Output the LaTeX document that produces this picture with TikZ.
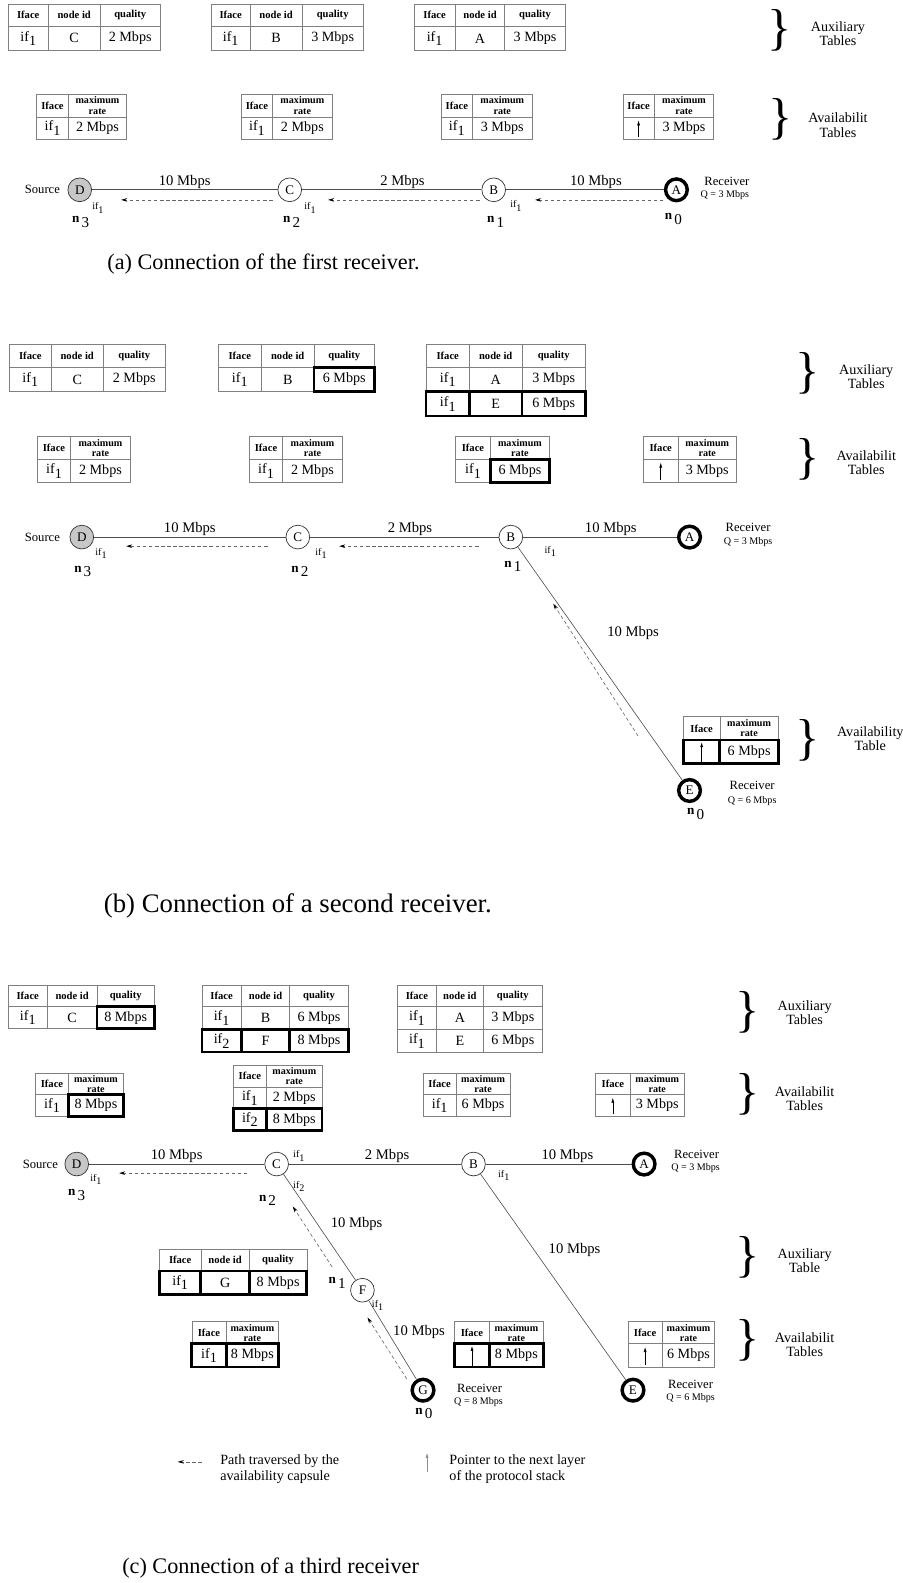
\documentclass[tikz,border=0pt]{standalone}
\usepackage{fontspec}
\setmainfont{Liberation Serif}
\usetikzlibrary{arrows.meta}
\newcommand\fs[1]{\fontsize{#1}{#1}\selectfont}
\newcommand\IFs[1]{if\raisebox{-0.7ex}{#1}}
\newcommand\nlab[1]{\textbf{n}\,\raisebox{-0.8ex}{\fs{15}#1}}
\newcommand\tcell[7]{%
  \pgfmathsetmacro\tcw{#4-#2}\pgfmathsetmacro\tch{#5-#3}%
  \pgfmathsetmacro\tcx{(#2+#4)/2}\pgfmathsetmacro\tcy{(#3+#5)/2}%
  \node[#6, minimum width=\tcw pt, minimum height=\tch pt] (#1) at (\tcx,\tcy) {#7};}
\newcommand\setcols[4]{\def\colA{#1}\def\colB{#2}\def\colC{#3}\def\colD{#4}}
\newcommand\auxhead[3]{%
  \tcell{#1-ha}{\colA}{#2}{\colB}{#3}{hdr}{Iface}%
  \tcell{#1-hb}{\colB}{#2}{\colC}{#3}{hdr}{node id}%
  \tcell{#1-hc}{\colC}{#2}{\colD}{#3}{hdr}{quality}}
\newcommand\auxrow[9]{%
  \tcell{#1-a}{\colA}{#2}{\colB}{#3}{#4}{#7}%
  \tcell{#1-b}{\colB}{#2}{\colC}{#3}{#5}{#8}%
  \tcell{#1-c}{\colC}{#2}{\colD}{#3}{#6}{#9}}
\newcommand\avhead[3]{%
  \tcell{#1-ha}{\colA}{#2}{\colB}{#3}{hdr}{Iface}%
  \tcell{#1-hb}{\colB}{#2}{\colC}{#3}{hdrs}{maximum\\rate}}
\newcommand\avrow[7]{%
  \tcell{#1-a}{\colA}{#2}{\colB}{#3}{#4}{#6}%
  \tcell{#1-b}{\colB}{#2}{\colC}{#3}{#5}{#7}}
\newcommand\ptrin[1]{\draw[ptrarrow] ([yshift=2.5pt]#1.south) -- ([yshift=-3.5pt]#1.north);}
\tikzset{
  tc/.style={draw=black!50, line width=0.6pt, inner sep=0pt, font=\fs{14}},
  bc/.style={draw=black, line width=2.8pt, inner sep=0pt, font=\fs{14}},
  hdr/.style={tc, font=\fs{10.5}\bfseries},
  hdrs/.style={tc, font=\fs{10}\bfseries, align=center},
  rn/.style={circle, draw=black!80, line width=0.7pt, minimum size=23.5pt, inner sep=0pt, font=\fs{13}, fill=white},
  rcv/.style={rn, draw=black, line width=3.4pt, minimum size=21.5pt},
  src/.style={rn, fill=black!22},
  link/.style={draw=black!70, line width=0.6pt},
  capsule/.style={draw=black!60, line width=0.6pt, dash pattern=on 3.5pt off 2.5pt, -{Stealth[length=6pt,width=3.5pt,black]}},
  ptrarrow/.style={line width=0.6pt, -{Latex[length=5pt,width=3pt]}},
  elab/.style={font=\fs{14.5}, inner sep=1pt},
  iflab/.style={font=\fs{10}, inner sep=0pt},
  lab/.style={font=\fs{12.5}, inner sep=0pt},
  qlab/.style={font=\fs{10}, inner sep=0pt},
  nl/.style={font=\fs{13}, inner sep=0pt},
  brc/.style={font=\fs{50}, inner sep=0pt},
  side/.style={font=\fs{14}, align=center, inner sep=0pt},
  capt/.style={inner sep=0pt},
  legt/.style={font=\fontsize{14}{16}\selectfont, align=left, inner sep=0pt, anchor=west}
}
\begin{document}
\begin{tikzpicture}[x=1pt,y=-1pt]
\useasboundingbox (0,0) rectangle (894,1568);
\fill[white] (0,0) rectangle (894,1568);

% ================= (a) =================
\setcols{8}{48}{99}{159}
\auxhead{aX1}{4}{26}
\auxrow{aX1r}{26}{50}{tc}{tc}{tc}{\IFs{1}}{C}{2 Mbps}
\setcols{209}{248}{299}{360}
\auxhead{aX2}{4}{26}
\auxrow{aX2r}{26}{50}{tc}{tc}{tc}{\IFs{1}}{B}{3 Mbps}
\setcols{410}{451}{500}{560}
\auxhead{aX3}{4}{26}
\auxrow{aX3r}{26}{50}{tc}{tc}{tc}{\IFs{1}}{A}{3 Mbps}
\node[brc] (aBr1) at (772,30) {\}};
\node[side] (aS1) at (830,33) {Auxiliary\\Tables};

\setcols{36}{68}{125}{}
\avhead{aV1}{93}{116}
\avrow{aV1r}{116}{138}{tc}{tc}{\IFs{1}}{2 Mbps}
\setcols{239}{270}{329}{}
\avhead{aV2}{93}{116}
\avrow{aV2r}{116}{138}{tc}{tc}{\IFs{1}}{2 Mbps}
\setcols{437}{468}{527}{}
\avhead{aV3}{93}{116}
\avrow{aV3r}{116}{138}{tc}{tc}{\IFs{1}}{3 Mbps}
\setcols{617}{648}{707}{}
\avhead{aV4}{93}{116}
\avrow{aV4r}{116}{138}{tc}{tc}{}{3 Mbps}
\ptrin{aV4r-a}
\node[brc] (aBr2) at (773,118) {\}};
\node[side] (aS2) at (830,124) {Availabilit\\Tables};

\node[src] (aD) at (79,188) {D};
\node[rn] (aC) at (287,188) {C};
\node[rn] (aB) at (489,188) {B};
\node[rcv] (aA) at (670,188) {A};
\draw[link] (aD) -- node[elab,above] {10 Mbps} (aC);
\draw[link] (aC) -- node[elab,above,pos=0.56] {2 Mbps} (aB);
\draw[link] (aB) -- node[elab,above,pos=0.57] {10 Mbps} (aA);
\draw[capsule] ([shift={(-17,10)}]aC.center) -- ([shift={(41,10)}]aD.center);
\draw[capsule] ([shift={(-14,10)}]aB.center) -- ([shift={(38,10)}]aC.center);
\draw[capsule] ([shift={(-13,10)}]aA.center) -- ([shift={(41,10)}]aB.center);
\node[lab] (aSrc) at (42,188) {Source};
\node[iflab] (aDi) at (97,206) {\IFs{1}};
\node[iflab] (aCi) at (307,206) {\IFs{1}};
\node[iflab] (aBi) at (511,204) {\IFs{1}};
\node[nl] (aDn) at (80,220) {\nlab{3}};
\node[nl] (aCn) at (289,220) {\nlab{2}};
\node[nl] (aBn) at (491,220) {\nlab{1}};
\node[nl] (aAn) at (667,217) {\nlab{0}};
\node[lab] (aRc) at (720,180) {Receiver};
\node[qlab] (aQ) at (718,193) {Q = 3 Mbps};
\node[capt, font=\fs{22}] (aCap) at (261,262) {(a) Connection of the first receiver.};

% ================= (b) =================
\setcols{9}{51}{102}{164}
\auxhead{bX1}{341}{364}
\auxrow{bX1r}{364}{388}{tc}{tc}{tc}{\IFs{1}}{C}{2 Mbps}
\setcols{216}{259}{311}{371}
\auxhead{bX2}{341}{364}
\auxrow{bX2r}{364}{388}{tc}{tc}{bc}{\IFs{1}}{B}{6 Mbps}
\setcols{422}{465}{517}{580}
\auxhead{bX3}{341}{364}
\auxrow{bX3r}{364}{388}{tc}{tc}{tc}{\IFs{1}}{A}{3 Mbps}
\auxrow{bX3s}{388}{412}{bc}{bc}{bc}{\IFs{1}}{E}{6 Mbps}
\node[brc] (bBr1) at (800,370) {\}};
\node[side] (bS1) at (858,373) {Auxiliary\\Tables};

\setcols{37}{70}{129}{}
\avhead{bV1}{432}{455}
\avrow{bV1r}{455}{478}{tc}{tc}{\IFs{1}}{2 Mbps}
\setcols{247}{280}{339}{}
\avhead{bV2}{432}{455}
\avrow{bV2r}{455}{478}{tc}{tc}{\IFs{1}}{2 Mbps}
\setcols{451}{486}{544}{}
\avhead{bV3}{432}{455}
\avrow{bV3r}{455}{478}{tc}{bc}{\IFs{1}}{6 Mbps}
\setcols{637}{672}{729}{}
\avhead{bV4}{432}{455}
\avrow{bV4r}{455}{478}{tc}{tc}{}{3 Mbps}
\ptrin{bV4r-a}
\node[brc] (bBr2) at (800,455) {\}};
\node[side] (bS2) at (858,458) {Availabilit\\Tables};

\node[src] (bD) at (81,532) {D};
\node[rn] (bC) at (295,532) {C};
\node[rn] (bB) at (506,532) {B};
\node[rcv] (bA) at (683,532) {A};
\node[rcv] (bE) at (683,783) {E};
\draw[link] (bD) -- node[elab,above] {10 Mbps} (bC);
\draw[link] (bC) -- node[elab,above,pos=0.53] {2 Mbps} (bB);
\draw[link] (bB) -- node[elab,above,pos=0.57] {10 Mbps} (bA);
\draw[link] (bB) -- node[elab,anchor=west,pos=0.37,xshift=27pt] {10 Mbps} (bE);
\draw[capsule] ([shift={(-30,9)}]bC.center) -- ([shift={(44,9)}]bD.center);
\draw[capsule] ([shift={(-32,9)}]bB.center) -- ([shift={(41,9)}]bC.center);
\draw[capsule] ([shift={(-51,-54)}]bE.center) -- ([shift={(42,66)}]bB.center);
\node[lab] (bSrc) at (42,532) {Source};
\node[iflab] (bDi) at (100,548) {\IFs{1}};
\node[iflab] (bCi) at (318,548) {\IFs{1}};
\node[iflab] (bBi) at (545,546) {\IFs{1}};
\node[nl] (bDn) at (82,566) {\nlab{3}};
\node[nl] (bCn) at (297,566) {\nlab{2}};
\node[nl] (bBn) at (508,561) {\nlab{1}};
\node[nl] (bEn) at (689,806) {\nlab{0}};
\node[lab] (bRc) at (741,522) {Receiver};
\node[qlab] (bQ) at (741,537) {Q = 3 Mbps};
\node[lab] (bRe) at (745,778) {Receiver};
\node[qlab] (bQe) at (745,793) {Q = 6 Mbps};
\setcols{677}{713}{771}{}
\avhead{bV5}{710}{733}
\avrow{bV5r}{733}{756}{bc}{bc}{}{6 Mbps}
\ptrin{bV5r-a}
\node[brc] (bBr3) at (800,733) {\}};
\node[side] (bS3) at (862,732) {Availability\\Table};
\node[capt, font=\fs{26.5}] (bCap) at (295,897) {(b) Connection of a second receiver.};

% ================= (c) =================
\setcols{8}{47}{96}{153}
\auxhead{cX1}{976}{997}
\auxrow{cX1r}{997}{1019}{tc}{tc}{bc}{\IFs{1}}{C}{8 Mbps}
\setcols{200}{239}{287}{345}
\auxhead{cX2}{976}{997}
\auxrow{cX2r}{997}{1020}{tc}{tc}{tc}{\IFs{1}}{B}{6 Mbps}
\auxrow{cX2s}{1020}{1042}{bc}{bc}{bc}{\IFs{2}}{F}{8 Mbps}
\setcols{394}{432}{479}{537}
\auxhead{cX3}{976}{997}
\auxrow{cX3r}{997}{1020}{tc}{tc}{tc}{\IFs{1}}{A}{3 Mbps}
\auxrow{cX3s}{1020}{1042}{tc}{tc}{tc}{\IFs{1}}{E}{6 Mbps}
\node[brc] (cBr1) at (741,1003) {\}};
\node[side] (cS1) at (797,1003) {Auxiliary\\Tables};

\setcols{35}{68}{122}{}
\avhead{cV1}{1063}{1084}
\avrow{cV1r}{1084}{1106}{tc}{bc}{\IFs{1}}{8 Mbps}
\setcols{231}{264}{319}{}
\avhead{cV2}{1055}{1077}
\avrow{cV2r}{1077}{1098}{tc}{tc}{\IFs{1}}{2 Mbps}
\avrow{cV2s}{1098}{1120}{bc}{bc}{\IFs{2}}{8 Mbps}
\setcols{419}{452}{505}{}
\avhead{cV3}{1063}{1084}
\avrow{cV3r}{1084}{1106}{tc}{tc}{\IFs{1}}{6 Mbps}
\setcols{590}{624}{678}{}
\avhead{cV4}{1063}{1084}
\avrow{cV4r}{1084}{1106}{tc}{tc}{}{3 Mbps}
\ptrin{cV4r-a}
\node[brc] (cBr2) at (741,1084) {\}};
\node[side] (cS2) at (797,1088) {Availabilit\\Tables};

\node[src] (cD) at (76,1153) {D};
\node[rn] (cC) at (274,1153) {C};
\node[rn] (cB) at (469,1153) {B};
\node[rcv] (cA) at (638,1153) {A};
\node[rn] (cF) at (359,1278) {F};
\node[rcv] (cG) at (419,1377) {G};
\node[rcv] (cE) at (627,1377) {E};
\draw[link] (cD) -- node[elab,above] {10 Mbps} (cC);
\draw[link] (cC) -- node[elab,above,pos=0.57] {2 Mbps} (cB);
\draw[link] (cB) -- node[elab,above,pos=0.56] {10 Mbps} (cA);
\draw[link] (cC) -- node[elab,anchor=west,pos=0.47,xshift=12pt] {10 Mbps} (cF);
\draw[link] (cF) -- node[elab,anchor=west,pos=0.4,xshift=4pt] {10 Mbps} (cG);
\draw[link] (cB) -- node[elab,anchor=west,pos=0.37,xshift=13pt] {10 Mbps} (cE);
\draw[capsule] ([shift={(-29,9)}]cC.center) -- ([shift={(42,9)}]cD.center);
\draw[capsule] ([shift={(-30,-23)}]cF.center) -- ([shift={(16,42)}]cC.center);
\draw[capsule] ([shift={(-16,-11)}]cG.center) -- ([shift={(5,27)}]cF.center);
\node[lab] (cSrc) at (40,1153) {Source};
\node[iflab] (cDi) at (95,1168) {\IFs{1}};
\node[iflab] (cCi) at (296,1145) {\IFs{1}};
\node[iflab] (cCj) at (296,1175) {\IFs{2}};
\node[iflab] (cBi) at (499,1164) {\IFs{1}};
\node[iflab] (cFi) at (374,1293) {\IFs{1}};
\node[nl] (cDn) at (76,1184) {\nlab{3}};
\node[nl] (cCn) at (265,1189) {\nlab{2}};
\node[nl] (cFn) at (334,1271) {\nlab{1}};
\node[nl] (cGn) at (420,1400) {\nlab{0}};
\node[lab] (cRa) at (690,1143) {Receiver};
\node[qlab] (cQa) at (689,1157) {Q = 3 Mbps};
\node[lab] (cRg) at (475,1375) {Receiver};
\node[qlab] (cQg) at (474,1389) {Q = 8 Mbps};
\node[lab] (cRe) at (684,1371) {Receiver};
\node[qlab] (cQe) at (684,1385) {Q = 6 Mbps};

\setcols{158}{199}{247}{304}
\auxhead{cX4}{1237}{1259}
\auxrow{cX4r}{1259}{1282}{bc}{bc}{bc}{\IFs{1}}{G}{8 Mbps}
\node[brc] (cBr3) at (741,1245) {\}};
\node[side] (cS3) at (797,1249) {Auxiliary\\Table};

\setcols{190}{224}{276}{}
\avhead{cV5}{1309}{1331}
\avrow{cV5r}{1331}{1354}{bc}{bc}{\IFs{1}}{8 Mbps}
\setcols{450}{485}{538}{}
\avhead{cV6}{1309}{1331}
\avrow{cV6r}{1331}{1354}{bc}{bc}{}{8 Mbps}
\ptrin{cV6r-a}
\setcols{622}{656}{708}{}
\avhead{cV7}{1309}{1331}
\avrow{cV7r}{1331}{1354}{tc}{tc}{}{6 Mbps}
\ptrin{cV7r-a}
\node[brc] (cBr4) at (741,1328) {\}};
\node[side] (cS4) at (797,1332) {Availabilit\\Tables};

% legend
\coordinate (lgA) at (200,1448);
\coordinate (lgB) at (176,1448);
\draw[capsule] (lgA) -- (lgB);
\node[legt] (lgT) at (218,1455) {Path traversed by the\\availability capsule};
\coordinate (lpA) at (423,1458);
\coordinate (lpB) at (423,1439);
\draw[ptrarrow, draw=black!45] (lpA) -- (lpB);
\node[legt] (lpT) at (445,1455) {Pointer to the next layer\\of the protocol stack};

\node[capt, font=\fs{22}] (cCap) at (268,1553) {(c) Connection of a third receiver};
\end{tikzpicture}
\end{document}
